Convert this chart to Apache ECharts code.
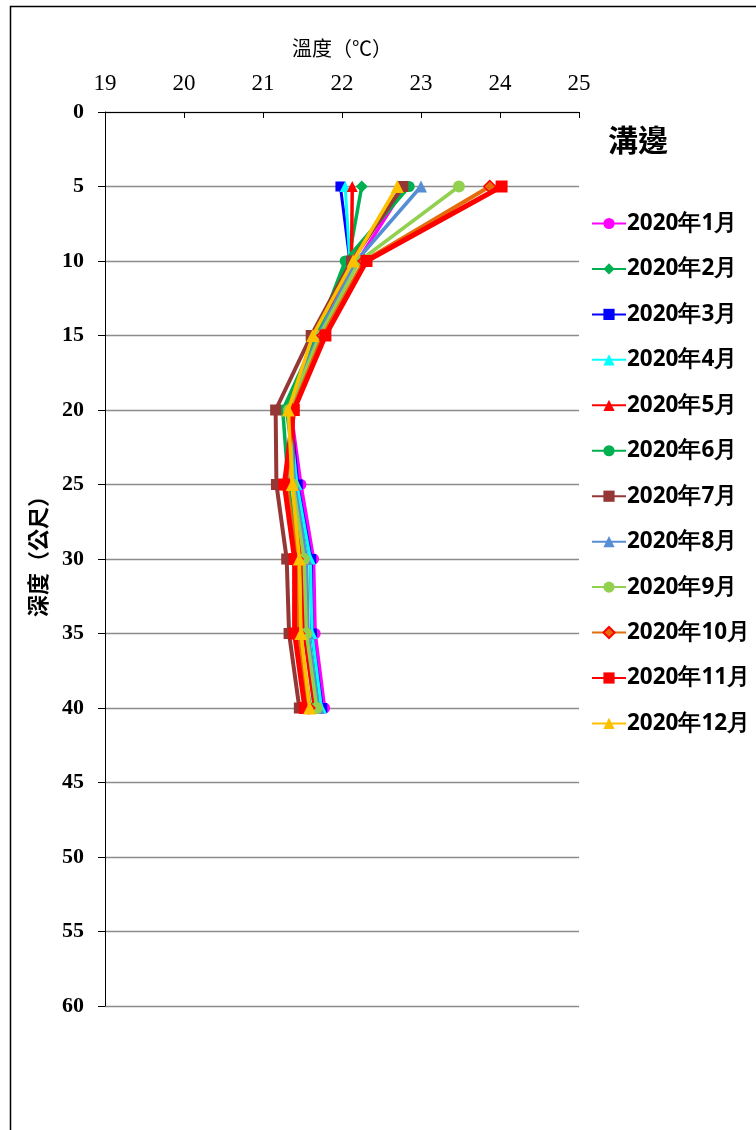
<!DOCTYPE html>
<html>
<head>
<meta charset="utf-8">
<script src="https://cdn.jsdelivr.net/npm/echarts@6/dist/echarts.min.js"></script>
<style>
  html, body { margin: 0; padding: 0; background: #fff; }
  #chart { width: 756px; height: 1130px; }
</style>
</head>
<body>
<div id="chart"></div>
<script>
// Depth below ground (m) at which temperature was logged
const depths = [5, 10, 15, 20, 25, 30, 35, 40];

// Axis ticks
const tempTicks = [19, 20, 21, 22, 23, 24, 25];
const depthTicks = [0, 5, 10, 15, 20, 25, 30, 35, 40, 45, 50, 55, 60];

// Monthly temperature profiles (°C), one value per depth
const months = ['2020年1月', '2020年2月', '2020年3月', '2020年4月', '2020年5月', '2020年6月',
                '2020年7月', '2020年8月', '2020年9月', '2020年10月', '2020年11月', '2020年12月'];
const jan = [22.80, 22.20, 21.70, 21.35, 21.48, 21.64, 21.66, 21.78];
const feb = [22.25, 22.08, 21.68, 21.30, 21.42, 21.60, 21.62, 21.73];
const mar = [21.98, 22.10, 21.70, 21.35, 21.44, 21.61, 21.62, 21.75];
const apr = [22.04, 22.10, 21.70, 21.33, 21.43, 21.60, 21.62, 21.74];
const may = [22.13, 22.12, 21.72, 21.38, 21.38, 21.50, 21.52, 21.65];
const jun = [22.85, 22.04, 21.68, 21.25, 21.32, 21.45, 21.46, 21.60];
const jul = [22.77, 22.12, 21.61, 21.16, 21.17, 21.30, 21.33, 21.46];
const aug = [23.00, 22.18, 21.70, 21.33, 21.40, 21.55, 21.57, 21.70];
const sep = [23.48, 22.22, 21.72, 21.33, 21.38, 21.52, 21.55, 21.68];
const oct = [23.87, 22.28, 21.76, 21.37, 21.30, 21.43, 21.45, 21.58];
const nov = [24.02, 22.31, 21.79, 21.39, 21.27, 21.40, 21.40, 21.53];
const dec = [22.70, 22.14, 21.63, 21.32, 21.37, 21.46, 21.48, 21.59];
const monthly = [jan, feb, mar, apr, may, jun, jul, aug, sep, oct, nov, dec];

// Line / marker style for each month
const styles = [
  { color: '#FF00FF', symbol: 'circle',   size: 11, width: 3.5 },
  { color: '#00B050', symbol: 'diamond',  size: 12, width: 3.5 },
  { color: '#0000FF', symbol: 'rect',     size: 10, width: 3 },
  { color: '#00FFFF', symbol: 'triangle', size: 11, width: 3 },
  { color: '#FF0000', symbol: 'triangle', size: 11, width: 3.5 },
  { color: '#00B050', symbol: 'circle',   size: 11, width: 3.5 },
  { color: '#953735', symbol: 'rect',     size: 11, width: 4 },
  { color: '#558ED5', symbol: 'triangle', size: 12, width: 3.5 },
  { color: '#92D050', symbol: 'circle',   size: 12, width: 3.5 },
  { color: '#E46C0A', symbol: 'diamond',  size: 12, width: 4, border: '#FF0000' },
  { color: '#FF0000', symbol: 'rect',     size: 12, width: 5 },
  { color: '#FFC000', symbol: 'triangle', size: 13, width: 3.5 }
];

const series = months.map((name, i) => {
  const st = styles[i];
  return {
    name: name,
    type: 'line',
    data: depths.map((d, k) => [monthly[i][k], d]),
    symbol: st.symbol,
    symbolSize: st.size,
    showAllSymbol: true,
    lineStyle: { color: st.color, width: st.width },
    itemStyle: st.border
      ? { color: st.color, borderColor: st.border, borderWidth: 1.5 }
      : { color: st.color },
    emphasis: { disabled: true },
    animation: false,
    z: 2 + i
  };
});

const chart = echarts.init(document.getElementById('chart'), null, { renderer: 'canvas' });
chart.setOption({
  backgroundColor: '#ffffff',
  animation: false,
  grid: { left: 105, top: 112, width: 474, height: 894, containLabel: false },
  xAxis: {
    type: 'value',
    position: 'top',
    min: tempTicks[0],
    max: tempTicks[tempTicks.length - 1],
    interval: 1,
    name: '溫度（℃）',
    nameLocation: 'middle',
    nameGap: 54,
    nameTextStyle: { fontFamily: 'Noto Sans CJK TC', fontSize: 20, color: '#000' },
    axisLine: { show: true, lineStyle: { color: '#000', width: 1 } },
    axisTick: { show: true, inside: true, length: 6, lineStyle: { color: '#000' } },
    axisLabel: { fontFamily: 'Liberation Serif', fontSize: 23, color: '#000', margin: 17 },
    splitLine: { show: false }
  },
  yAxis: {
    type: 'value',
    inverse: true,
    min: depthTicks[0],
    max: depthTicks[depthTicks.length - 1],
    interval: 5,
    name: '深度（公尺）',
    nameLocation: 'middle',
    nameGap: 56,
    nameRotate: 90,
    nameTextStyle: { fontFamily: 'Noto Sans CJK TC', fontSize: 22, fontWeight: 'bold', color: '#000', padding: [0, 0, 0, 16] },
    axisLine: { show: true, lineStyle: { color: '#000', width: 1 } },
    axisTick: { show: true, inside: false, length: 7, lineStyle: { color: '#000' } },
    axisLabel: { fontFamily: 'Liberation Serif', fontSize: 22, fontWeight: 'bold', color: '#000', margin: 21 },
    splitLine: { show: true, lineStyle: { color: '#8c8c8c', width: 1.3 } }
  },
  title: {
    text: '溝邊',
    left: 603,
    top: 120,
    textStyle: { fontFamily: 'Noto Sans CJK TC', fontSize: 30, fontWeight: 'bold', color: '#000' }
  },
  legend: {
    orient: 'vertical',
    left: 586,
    top: 207,
    itemGap: 22.45,
    itemWidth: 34,
    itemHeight: 14,
    textStyle: { fontFamily: 'Noto Sans', fontSize: 22.5, fontWeight: 'bold', color: '#000', padding: [0, 0, 0, -4] },
    data: months
  },
  graphic: [{
    type: 'rect',
    shape: { x: 10.5, y: 6.5, width: 900, height: 1300 },
    style: { fill: 'none', stroke: '#000', lineWidth: 1.5 },
    silent: true,
    z: 100
  }],
  series: series
});
</script>
</body>
</html>
